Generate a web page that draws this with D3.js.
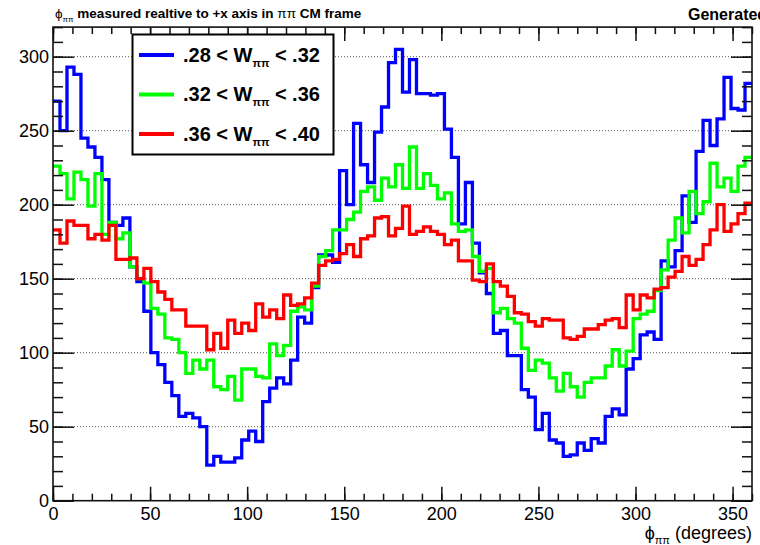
<html>
<head>
  <script src="https://d3js.org/d3.v7.min.js"></script>
  <style>
    body {
      margin: 0;
      padding: 0;
      background: white;
      overflow: hidden;
    }
    svg {
      display: block;
      font-family: "Liberation Sans", Arial, sans-serif;
    }
  </style>
</head>
<body>
  <div id="chart"></div>
  <script>
// phi_pipi histogram, 100 bins over 0..360 degrees
const xRange = [0, 360];
const nBins = 100;

// .28 < W < .32
const wBin1 = [
  270, 250, 293, 288, 245, 239, 232, 217, 188, 186,
  191, 158, 148, 128, 100, 92, 80, 71, 57, 59,
  56, 50, 24, 30, 26, 26, 29, 41, 47, 40,
  67, 76, 83, 79, 95, 124, 120, 144, 166, 166,
  161, 223, 200, 255, 227, 215, 249, 266, 296, 305,
  276, 298, 275, 275, 274, 275, 251, 232, 187, 215,
  174, 154, 140, 113, 115, 98, 98, 75, 70, 48,
  59, 41, 39, 30, 31, 39, 34, 42, 39, 57,
  62, 58, 89, 96, 112, 114, 109, 162, 158, 169,
  206, 188, 236, 257, 240, 258, 286, 265, 264, 282
];

// .32 < W < .36
const wBin2 = [
  226, 221, 204, 222, 217, 199, 221, 180, 188, 177,
  181, 158, 150, 147, 130, 126, 110, 109, 100, 86,
  95, 89, 95, 77, 75, 84, 68, 89, 89, 84,
  83, 106, 98, 105, 128, 131, 129, 145, 165, 169,
  183, 183, 190, 195, 209, 212, 203, 218, 212, 227,
  211, 239, 211, 221, 213, 204, 208, 187, 182, 183,
  165, 155, 157, 127, 130, 123, 120, 103, 88, 95,
  93, 83, 74, 86, 77, 70, 80, 83, 83, 91,
  102, 91, 101, 123, 126, 128, 142, 156, 176, 191,
  181, 209, 194, 202, 228, 212, 218, 209, 226, 232
];

// .36 < W < .40
const wBin3 = [
  183, 174, 189, 186, 186, 177, 180, 176, 186, 163,
  163, 164, 150, 157, 148, 141, 136, 129, 129, 118,
  118, 118, 102, 113, 103, 122, 113, 120, 115, 133,
  124, 129, 123, 139, 132, 133, 137, 147, 159, 162,
  163, 167, 173, 165, 177, 179, 191, 192, 179, 184,
  199, 180, 182, 185, 182, 180, 173, 176, 162, 162,
  149, 148, 160, 148, 145, 138, 127, 126, 121, 118,
  123, 122, 122, 110, 109, 111, 116, 116, 119, 122,
  123, 117, 139, 129, 139, 137, 143, 144, 151, 155,
  165, 159, 163, 173, 183, 200, 182, 187, 194, 201
];

const seriesLow = [".28", ".32", ".36"];
const seriesHigh = [".32", ".36", ".40"];
const seriesColors = ["#0000ff", "#00ff00", "#ff0000"];

const xTicks = [0, 50, 100, 150, 200, 250, 300, 350];
const xMinorTicks = d3.range(0, 361, 10);
const yTicks = [0, 50, 100, 150, 200, 250, 300];
const yMinorTicks = d3.range(0, 321, 10);

const width = 760;
const height = 545;

const svg = d3.select("#chart")
  .append("svg")
  .attr("width", width)
  .attr("height", height);

const x = d3.scaleLinear().domain(xRange).range([53, 752]);
const y = d3.scaleLinear().domain([0, 320]).range([500.7, 27.1]);

// dotted horizontal grid
svg.append("g")
  .selectAll("line")
  .data(yTicks.filter(d => d > 0))
  .enter()
  .append("line")
  .attr("x1", x(xRange[0]))
  .attr("x2", x(xRange[1]))
  .attr("y1", d => y(d))
  .attr("y2", d => y(d))
  .attr("stroke", "#555")
  .attr("stroke-width", 1)
  .attr("stroke-dasharray", "1,2");

// histograms
const binW = (xRange[1] - xRange[0]) / nBins;
const step = d3.line()
  .x(d => x(d[0]))
  .y(d => y(d[1]))
  .curve(d3.curveStepAfter);

[wBin1, wBin2, wBin3].forEach((vals, k) => {
  const pts = vals.map((v, i) => [xRange[0] + i * binW, v]);
  pts.push([xRange[1], vals[vals.length - 1]]);
  svg.append("path")
    .attr("d", step(pts))
    .attr("fill", "none")
    .attr("stroke", seriesColors[k])
    .attr("stroke-width", 3.3)
    .attr("stroke-linejoin", "miter");
});

// axes: minor + major ticks on all four sides, ticks pointing inward
const axisColor = "#111";
function styleAxis(g) {
  g.select(".domain").remove();
  g.selectAll(".tick line").attr("stroke", axisColor).attr("stroke-width", 1.5);
  g.selectAll("text").attr("fill", "#000").style("font-size", "18px")
    .style("font-family", "'Liberation Sans', Arial, sans-serif");
}

svg.append("g")
  .attr("transform", `translate(0,${y(0)})`)
  .call(d3.axisBottom(x).tickValues(xMinorTicks).tickSize(-7).tickFormat(""))
  .call(styleAxis);
svg.append("g")
  .attr("transform", `translate(0,${y(0)})`)
  .call(d3.axisBottom(x).tickValues(xTicks).tickSize(-14).tickPadding(7).tickFormat(d3.format("d")))
  .call(styleAxis);

svg.append("g")
  .attr("transform", `translate(0,${y(320)})`)
  .call(d3.axisTop(x).tickValues(xMinorTicks).tickSize(-7).tickFormat(""))
  .call(styleAxis);
svg.append("g")
  .attr("transform", `translate(0,${y(320)})`)
  .call(d3.axisTop(x).tickValues(xTicks).tickSize(-14).tickFormat(""))
  .call(styleAxis);

svg.append("g")
  .attr("transform", `translate(${x(0)},0)`)
  .call(d3.axisLeft(y).tickValues(yMinorTicks).tickSize(-10).tickFormat(""))
  .call(styleAxis);
svg.append("g")
  .attr("transform", `translate(${x(0)},0)`)
  .call(d3.axisLeft(y).tickValues(yTicks).tickSize(-21).tickPadding(4).tickFormat(d3.format("d")))
  .call(styleAxis);

svg.append("g")
  .attr("transform", `translate(${x(360)},0)`)
  .call(d3.axisRight(y).tickValues(yMinorTicks).tickSize(-10).tickFormat(""))
  .call(styleAxis);
svg.append("g")
  .attr("transform", `translate(${x(360)},0)`)
  .call(d3.axisRight(y).tickValues(yTicks).tickSize(-21).tickFormat(""))
  .call(styleAxis);

// frame
svg.append("rect")
  .attr("x", x(0))
  .attr("y", y(320))
  .attr("width", x(360) - x(0))
  .attr("height", y(0) - y(320))
  .attr("fill", "none")
  .attr("stroke", axisColor)
  .attr("stroke-width", 1.6);

// legend
const legend = svg.append("g");
legend.append("rect")
  .attr("x", 132.5)
  .attr("y", 34.5)
  .attr("width", 201)
  .attr("height", 120)
  .attr("fill", "white")
  .attr("stroke", "#000")
  .attr("stroke-width", 2);

seriesColors.forEach((c, k) => {
  const ly = 55 + k * 39.5;
  legend.append("line")
    .attr("x1", 139)
    .attr("x2", 174)
    .attr("y1", ly)
    .attr("y2", ly)
    .attr("stroke", c)
    .attr("stroke-width", 4);
  const t = legend.append("text")
    .attr("x", 183)
    .attr("y", ly + 6.5)
    .style("font-size", "20px")
    .style("font-weight", "bold");
  t.append("tspan").text(`${seriesLow[k]} < W`);
  t.append("tspan").attr("dy", 5).style("font-size", "11px").text("ππ");
  t.append("tspan").attr("dy", -5).text(` < ${seriesHigh[k]}`);
});

// titles
const title = svg.append("text")
  .attr("x", 55)
  .attr("y", 18)
  .style("font-size", "13.5px")
  .style("font-weight", "bold");
title.append("tspan").style("font-weight", "normal").text("ϕ");
title.append("tspan").attr("dy", 4).style("font-size", "8px").style("font-weight", "normal").text("ππ");
title.append("tspan").attr("dy", -4).text(" measured realtive to +x axis in ");
title.append("tspan").style("font-weight", "normal").text("ππ");
title.append("tspan").text(" CM frame");

svg.append("text")
  .attr("x", 688)
  .attr("y", 20)
  .style("font-size", "16px")
  .style("font-weight", "bold")
  .text("Generated");

const xTitle = svg.append("text")
  .attr("x", 752)
  .attr("y", 539)
  .attr("text-anchor", "end")
  .style("font-size", "18px");
xTitle.append("tspan").text("ϕ");
xTitle.append("tspan").attr("dy", 5).style("font-size", "11px").text("ππ");
xTitle.append("tspan").attr("dy", -5).text(" (degrees)");
  </script>
</body>
</html>
